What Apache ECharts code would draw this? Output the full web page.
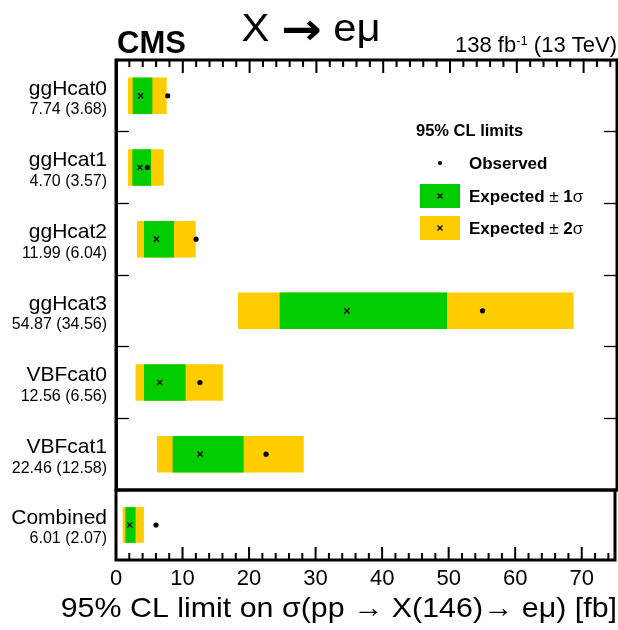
<!DOCTYPE html>
<html>
<head>
<meta charset="utf-8">
<script src="https://cdn.jsdelivr.net/npm/echarts@6/dist/echarts.min.js"></script>
<style>html,body{margin:0;padding:0;background:#fff}#c{width:618px;height:630px}</style>
</head>
<body>
<div id="c"></div>
<script>
// ---- data ----
const categories = ['ggHcat0','ggHcat1','ggHcat2','ggHcat3','VBFcat0','VBFcat1','Combined'];
const observed   = [7.74, 4.70, 11.99, 54.87, 12.56, 22.46, 6.01];
const expected   = [3.68, 3.57, 6.04, 34.56, 6.56, 12.58, 2.07];
const minus2     = [1.80, 1.80, 3.14, 18.26, 2.94, 6.14, 1.00];
const minus1     = [2.50, 2.44, 4.19, 24.50, 4.19, 8.48, 1.40];
const plus1      = [5.44, 5.24, 8.68, 49.55, 10.43, 19.10, 2.94];
const plus2      = [7.59, 7.14, 11.93, 68.50, 16.00, 28.10, 4.19];
const xTicks     = [0, 10, 20, 30, 40, 50, 60, 70];
const xMin = 0, xMax = 75, xMajor = 10, xMinor = 2;

const FONT = '"Liberation Sans", Arial, Helvetica, sans-serif';
const YELLOW = '#ffcc00', GREEN = '#00cc00';

const nTop = 6;
const topCats = categories.slice(0, nTop);
const botCats = categories.slice(nTop);

const GL = 116, GW = 501, G0T = 60, G0H = 430, G1T = 490, G1H = 70;
const MAJOR_LEN = 13, MINOR_LEN = 7;

// tick marks along x: [value, category index, length]
const minorTicks = [];
for (let v = xMin; v < xMax; v += xMinor) if (xTicks.indexOf(v) < 0) minorTicks.push(v);
const tickData = xTicks.map(v => [v, 0, MAJOR_LEN]).concat(minorTicks.map(v => [v, 0, MINOR_LEN]));

function rows(from, to) {
  const out = [];
  for (let i = from; i < to; i++) {
    out.push([i - from, minus2[i], minus1[i], expected[i], plus1[i], plus2[i], observed[i]]);
  }
  return out;
}

function renderLimit(params, api) {
  const c = api.value(0);
  const p2lo = api.coord([api.value(1), c]);
  const p1lo = api.coord([api.value(2), c]);
  const pe   = api.coord([api.value(3), c]);
  const p1hi = api.coord([api.value(4), c]);
  const p2hi = api.coord([api.value(5), c]);
  const po   = api.coord([api.value(6), c]);
  const h = api.size([0, 1])[1] * 0.51;
  const y0 = pe[1] - h / 2;
  const d = 2.6;
  return {
    type: 'group',
    children: [
      {type: 'rect', shape: {x: p2lo[0], y: y0, width: p2hi[0] - p2lo[0], height: h}, style: {fill: YELLOW}},
      {type: 'rect', shape: {x: p1lo[0], y: y0, width: p1hi[0] - p1lo[0], height: h}, style: {fill: GREEN}},
      {type: 'line', shape: {x1: pe[0] - d, y1: pe[1] - d, x2: pe[0] + d, y2: pe[1] + d}, style: {stroke: '#000', lineWidth: 1.3}},
      {type: 'line', shape: {x1: pe[0] - d, y1: pe[1] + d, x2: pe[0] + d, y2: pe[1] - d}, style: {stroke: '#000', lineWidth: 1.3}},
      {type: 'circle', shape: {cx: po[0], cy: po[1], r: 2.6}, style: {fill: '#000'}}
    ]
  };
}

// x tick marks, placed with the x scale; top panel: hang from the top frame, bottom panel: rise from the bottom frame
function makeTickRenderer(atTop) {
  return function (params, api) {
    const p = api.coord([api.value(0), api.value(1)]);
    const band = api.size([0, 1])[1];
    const len = api.value(2);
    const frameY = atTop ? p[1] - band * (nTop - 0) / nTop * 0 - band / 2 : p[1] + band / 2;
    const y = atTop ? frameY : frameY - len;
    return {type: 'rect', shape: {x: p[0] - 1, y: y, width: 2, height: len}, style: {fill: '#000'}};
  };
}

const HIDDEN_CAT = {type: 'category', data: [''], show: false};

function yTickAxis(gridIndex, cats, position) {
  return {
    type: 'category', gridIndex: gridIndex, data: cats, inverse: true, position: position,
    axisLine: {show: true, onZero: false, lineStyle: {color: '#000', width: 3}},
    splitLine: {show: false}, axisLabel: {show: false},
    axisTick: {show: true, inside: false, length: 13, lineStyle: {color: '#000', width: 1.3}}
  };
}

function yLabelAxis(gridIndex, cats, offsetIdx) {
  return {
    type: 'category', gridIndex: gridIndex, data: cats, inverse: true, position: 'left',
    axisLine: {show: false, onZero: false}, splitLine: {show: false}, axisTick: {show: false},
    axisLabel: {
      margin: 9, align: 'right', fontFamily: FONT, color: '#000', padding: [6, 0, 0, 0],
      formatter: (v, i) => '{n|' + v + '}\n{v|' + observed[i + offsetIdx].toFixed(2) + ' (' + expected[i + offsetIdx].toFixed(2) + ')}',
      rich: {
        n: {fontSize: 21, lineHeight: 22, fontFamily: FONT, color: '#000', align: 'right'},
        v: {fontSize: 16, lineHeight: 20, fontFamily: FONT, color: '#000', align: 'right'}
      }
    }
  };
}

const chart = echarts.init(document.getElementById('c'), null, {renderer: 'canvas'});
chart.setOption({
  animation: false,
  backgroundColor: '#fff',
  grid: [
    {left: GL, top: G0T, width: GW, height: G0H, show: true, borderColor: '#000', borderWidth: 3, backgroundColor: 'transparent'}, // 0 main
    {left: GL, top: G1T, width: GW, height: G1H, show: true, borderColor: '#000', borderWidth: 3, backgroundColor: 'transparent'}, // 1 combined
    {left: 0, top: G0T, width: GL, height: G0H, show: false},            // 2 left ticks
    {left: GL + GW, top: G0T, width: 1, height: G0H, show: false}        // 3 right ticks
  ],
  xAxis: [
    {type: 'value', gridIndex: 0, position: 'bottom', min: xMin, max: xMax, interval: xMajor, show: false},  // 0
    {                                                                                                       // 1
      type: 'value', gridIndex: 1, position: 'bottom', min: xMin, max: xMax, interval: xMajor,
      axisLine: {show: false, onZero: false}, splitLine: {show: false}, axisTick: {show: false},
      axisLabel: {
        show: true, color: '#000', fontSize: 22, fontFamily: FONT, margin: 8,
        formatter: v => (xTicks.indexOf(v) >= 0 ? String(v) : '')
      }
    },
    Object.assign({gridIndex: 2}, HIDDEN_CAT),  // 2
    Object.assign({gridIndex: 3}, HIDDEN_CAT)   // 3
  ],
  yAxis: [
    yLabelAxis(0, topCats, 0),                  // 0
    yLabelAxis(1, botCats, nTop),               // 1
    yTickAxis(2, topCats, 'right'),             // 2 ticks at left frame pointing right
    yTickAxis(3, topCats, 'left')               // 3 ticks at right frame pointing left
  ],
  series: [
    {type: 'custom', xAxisIndex: 0, yAxisIndex: 0, renderItem: renderLimit, data: rows(0, nTop),
     encode: {x: [1, 2, 3, 4, 5, 6], y: 0}, z: 5},
    {type: 'custom', xAxisIndex: 1, yAxisIndex: 1, renderItem: renderLimit, data: rows(nTop, categories.length),
     encode: {x: [1, 2, 3, 4, 5, 6], y: 0}, z: 5},
    // ticks: category 0 of the top panel is the first row, so its band's upper edge is the top frame
    {type: 'custom', xAxisIndex: 0, yAxisIndex: 0, renderItem: makeTickRenderer(true), data: tickData,
     encode: {x: 0, y: 1}, z: 6, silent: true, clip: false},
    // category 0 of the bottom panel is its only row, so its band's lower edge is the bottom frame
    {type: 'custom', xAxisIndex: 1, yAxisIndex: 1, renderItem: makeTickRenderer(false), data: tickData,
     encode: {x: 0, y: 1}, z: 6, silent: true, clip: false}
  ],
  graphic: [
    {type: 'text', left: 117, top: 29, style: {text: 'CMS', font: 'bold 31px ' + FONT, fill: '#000'}},
    {type: 'text', x: 311, y: 31, scaleX: 1.1, style: {
      text: '{a|X }{r|\u2192}{a| e\u03bc}', textAlign: 'center', textVerticalAlign: 'middle',
      rich: {
        a: {fontSize: 38, fontFamily: FONT, fill: '#000'},
        r: {fontSize: 44, fontFamily: '"Noto Sans", "DejaVu Sans", sans-serif', fontWeight: 'bold', fill: '#000'}
      }
    }},
    {type: 'text', right: 1, top: 35, style: {
      text: '{a|138 fb}{s|-1}{a| (13 TeV)}', fill: '#000',
      rich: {a: {fontSize: 22, fontFamily: FONT, fill: '#000'}, s: {fontSize: 13, fontFamily: FONT, fill: '#000', verticalAlign: 'top', padding: [0, 0, 8, 0]}}
    }},
    {type: 'text', x: 617, y: 609, scaleX: 1.085, style: {
      text: '95% CL limit on \u03c3(pp \u2192 X(146)\u2192 e\u03bc) [fb]', font: '28px ' + FONT, fill: '#000',
      textAlign: 'right', textVerticalAlign: 'middle'
    }},
    // legend
    {type: 'text', x: 416, y: 131, style: {text: '95% CL limits', font: 'bold 16.5px ' + FONT, fill: '#000', textVerticalAlign: 'middle'}},
    {type: 'circle', shape: {cx: 440, cy: 163, r: 2}, style: {fill: '#000'}},
    {type: 'text', x: 469, y: 164, style: {text: 'Observed', font: 'bold 17px ' + FONT, fill: '#000', textVerticalAlign: 'middle'}},
    {type: 'rect', shape: {x: 420, y: 184, width: 40, height: 24}, style: {fill: GREEN}},
    {type: 'line', shape: {x1: 437.5, y1: 193.5, x2: 442.5, y2: 198.5}, style: {stroke: '#000', lineWidth: 1.2}},
    {type: 'line', shape: {x1: 437.5, y1: 198.5, x2: 442.5, y2: 193.5}, style: {stroke: '#000', lineWidth: 1.2}},
    {type: 'text', x: 469, y: 197, style: {
      text: '{b|Expected }{n|\u00b1 }{b|1}{n|\u03c3}', textVerticalAlign: 'middle',
      rich: {b: {font: 'bold 17px ' + FONT, fill: '#000'}, n: {font: '17px ' + FONT, fill: '#000'}}
    }},
    {type: 'rect', shape: {x: 420, y: 216, width: 40, height: 24}, style: {fill: YELLOW}},
    {type: 'line', shape: {x1: 437.5, y1: 225.5, x2: 442.5, y2: 230.5}, style: {stroke: '#000', lineWidth: 1.2}},
    {type: 'line', shape: {x1: 437.5, y1: 230.5, x2: 442.5, y2: 225.5}, style: {stroke: '#000', lineWidth: 1.2}},
    {type: 'text', x: 469, y: 229, style: {
      text: '{b|Expected }{n|\u00b1 }{b|2}{n|\u03c3}', textVerticalAlign: 'middle',
      rich: {b: {font: 'bold 17px ' + FONT, fill: '#000'}, n: {font: '17px ' + FONT, fill: '#000'}}
    }}
  ]
});
</script>
</body>
</html>
